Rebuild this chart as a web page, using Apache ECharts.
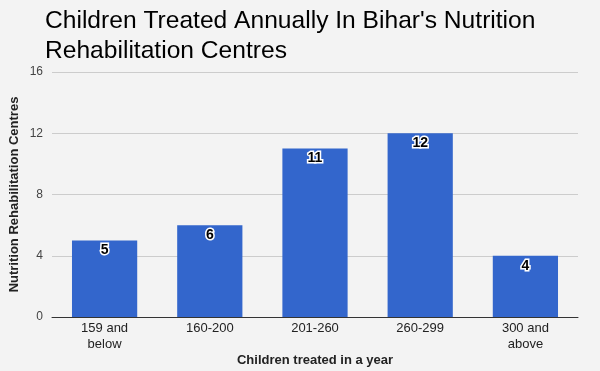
<!DOCTYPE html>
<html><head><meta charset="utf-8">
<script src="https://cdn.jsdelivr.net/npm/echarts@6/dist/echarts.min.js"></script>
<style>html,body{margin:0;padding:0;background:#f3f3f3}#c{width:600px;height:371px}</style>
</head><body><div id="c"></div>
<script>
const categories = ["159 and\nbelow", "160-200", "201-260", "260-299", "300 and\nabove"];
const values = [5, 6, 11, 12, 4];
const yTicks = [0, 4, 8, 12, 16];
const chart = echarts.init(document.getElementById('c'));
chart.setOption({
  backgroundColor: '#f3f3f3',
  animation: false,
  title: {
    text: "Children Treated Annually In Bihar's Nutrition\nRehabilitation Centres",
    left: 40, top: 1,
    textStyle: {fontFamily: 'Liberation Sans, Arial', fontSize: 24.6, fontWeight: 'normal', color: '#000', lineHeight: 30}
  },
  grid: {left: 52, right: 22, top: 72, bottom: 54, containLabel: false, outerBoundsMode: 'none'},
  xAxis: {
    type: 'category', data: categories,
    name: 'Children treated in a year', nameLocation: 'middle', nameGap: 37, nameMoveOverlap: false,
    nameTextStyle: {fontFamily: 'Liberation Sans, Arial', fontSize: 13, fontWeight: 'bold', color: '#222'},
    axisLine: {lineStyle: {color: '#333', width: 1}},
    axisTick: {show: false},
    axisLabel: {fontFamily: 'Liberation Sans, Arial', fontSize: 13, color: '#222', lineHeight: 16, margin: 3}
  },
  yAxis: {
    type: 'value', min: 0, max: 16, interval: 4,
    name: 'Nutrition Rehabilitation Centres', nameLocation: 'middle', nameGap: 31, nameMoveOverlap: false,
    nameTextStyle: {fontFamily: 'Liberation Sans, Arial', fontSize: 13, fontWeight: 'bold', color: '#222'},
    axisLine: {show: false}, axisTick: {show: false},
    axisLabel: {fontFamily: 'Liberation Sans, Arial', fontSize: 12, color: '#444', margin: 9,
      formatter: v => yTicks.includes(v) ? String(v) : ''},
    splitLine: {lineStyle: {color: '#cccccc'}}
  },
  series: [{
    type: 'bar', data: values, barWidth: '62%',
    itemStyle: {color: '#3366cc'},
    label: {show: true, position: 'insideTop', distance: 3,
      fontFamily: 'Liberation Sans, Arial', fontSize: 14, fontWeight: 'bold', color: '#000',
      textBorderColor: '#fff', textBorderWidth: 3}
  }]
});
</script></body></html>
